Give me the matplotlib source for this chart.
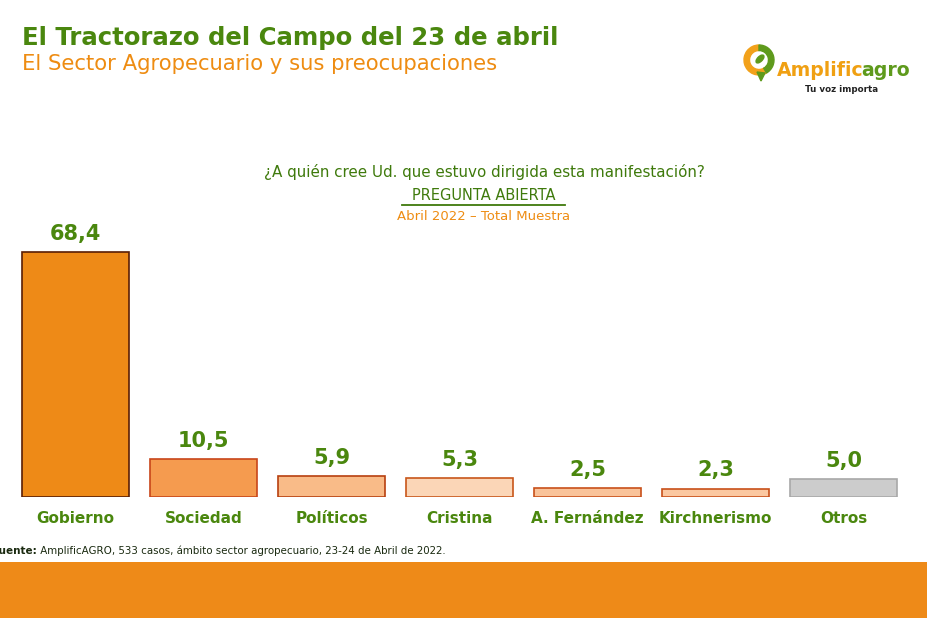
import matplotlib
matplotlib.use("Agg")
import matplotlib.pyplot as plt
from matplotlib.patches import Rectangle, Wedge, Polygon, Ellipse

categories = ["Gobierno", "Sociedad", "Políticos", "Cristina", "A. Fernández", "Kirchnerismo", "Otros"]
values = [68.4, 10.5, 5.9, 5.3, 2.5, 2.3, 5.0]
value_labels = ["68,4", "10,5", "5,9", "5,3", "2,5", "2,3", "5,0"]
fill_colors = ["#EE8A17", "#F59B4F", "#F9BB88", "#FBD6B7", "#F9C39A", "#FBC8A1", "#CCCCCC"]
edge_colors = ["#5A1E05", "#C8461A", "#B8400F", "#C8561A", "#C8501A", "#C8501A", "#A8A8A8"]

GREEN = "#4A870E"
ORANGE = "#EE8C12"
FONT = "DejaVu Sans"

W, H = 928, 618
fig = plt.figure(figsize=(W / 100, H / 100), dpi=100)
fig.patch.set_facecolor("white")

def fx(px):
    return px / W

def fy(py):
    return 1 - py / H

# bar axes
ax_left, ax_right = 11.5, 907.5
ax_bottom, ax_top = 497, 497 - 70 * (245 / 68.4)
ax = fig.add_axes([fx(ax_left), fy(ax_bottom), (ax_right - ax_left) / W, (ax_bottom - ax_top) / H])
ax.set_xlim(-0.5, len(categories) - 0.5)
ax.set_ylim(0, 70)
x = list(range(len(categories)))
ax.bar(x, values, width=0.835, color=fill_colors, edgecolor=edge_colors, linewidth=1.2)
for xi, v, lab in zip(x, values, value_labels):
    ax.annotate(lab, (xi, v), xytext=(0, 6), textcoords="offset points", ha="center", va="bottom",
                fontsize=15, fontweight="bold", color=GREEN, family=FONT)
ax.set_xticks(x)
ax.set_xticklabels(categories, fontsize=11, fontweight="bold", color=GREEN, family=FONT)
ax.tick_params(axis="x", length=0, pad=10)
ax.set_yticks([])
for s in ax.spines.values():
    s.set_visible(False)
ax.patch.set_alpha(0)

# titles
fig.text(fx(22), fy(38), "El Tractorazo del Campo del 23 de abril", fontsize=17.6, fontweight="bold",
         color=GREEN, family=FONT, va="center", ha="left")
fig.text(fx(22), fy(64), "El Sector Agropecuario y sus preocupaciones", fontsize=15.2,
         color=ORANGE, family=FONT, va="center", ha="left")

# question block
fig.text(fx(484), fy(172), "¿A quién cree Ud. que estuvo dirigida esta manifestación?", fontsize=10.9,
         color="#3F7A0C", family=FONT, va="center", ha="center")
fig.text(fx(484), fy(196), "PREGUNTA ABIERTA", fontsize=10.5, color="#3F7A0C", family=FONT,
         va="center", ha="center")
fig.add_artist(plt.Line2D([fx(402), fx(565)], [fy(204.5), fy(204.5)], color="#3F7A0C", lw=1.3))
fig.text(fx(484), fy(217), "Abril 2022 – Total Muestra", fontsize=9.5, color=ORANGE, family=FONT,
         va="center", ha="center")

# footer
t_f = fig.text(fx(-8), fy(551), "Fuente:", fontsize=7.5, fontweight="bold", color="#1A2A10", family=FONT,
               va="center", ha="left")
ax.annotate(" AmplificAGRO, 533 casos, ámbito sector agropecuario, 23-24 de Abril de 2022.",
            xy=(1, 0.5), xycoords=t_f, va="center", ha="left",
            fontsize=7.4, color="#1A2A10", family=FONT, annotation_clip=False)

# bottom band
fig.add_artist(Rectangle((0, 0), 1, (H - 562) / H, transform=fig.transFigure, color="#EE8A18", lw=0))

# logo
lax = fig.add_axes([fx(735), fy(90), 50 / W, 50 / H])
lax.set_xlim(0, 50)
lax.set_ylim(0, 50)
lax.set_aspect("equal")
lax.axis("off")
cx, cy, r = 24, 30, 15
lax.add_patch(Wedge((cx, cy), r, 90, 300, width=5.5, color="#F2A11A"))
lax.add_patch(Wedge((cx, cy), r, -60, 90, width=5.5, color="#5E9A1C"))
lax.add_patch(Polygon([[cx - 2, cy - r + 3], [cx + 6, cy - r + 2], [cx + 2, cy - r - 6]], color="#5E9A1C"))
lax.add_patch(Ellipse((cx + 1, cy + 1), 10, 5, angle=45, color="#5E9A1C"))
t_a = fig.text(fx(777), fy(71), "Amplific", fontsize=13.6, fontweight="bold", color="#F0A012", family=FONT,
               va="center", ha="left")
ax.annotate("agro", xy=(1, 0.5), xycoords=t_a, xytext=(-1.5, 0), textcoords="offset points",
            va="center", ha="left", fontsize=13.6,
            fontweight="bold", color="#5E9A1C", family=FONT, annotation_clip=False)
fig.text(fx(842), fy(90), "Tu voz importa", fontsize=6.3, fontweight="bold", color="#222222", family=FONT,
         va="center", ha="center")

fig.savefig("out.png", dpi=100, facecolor="white")
